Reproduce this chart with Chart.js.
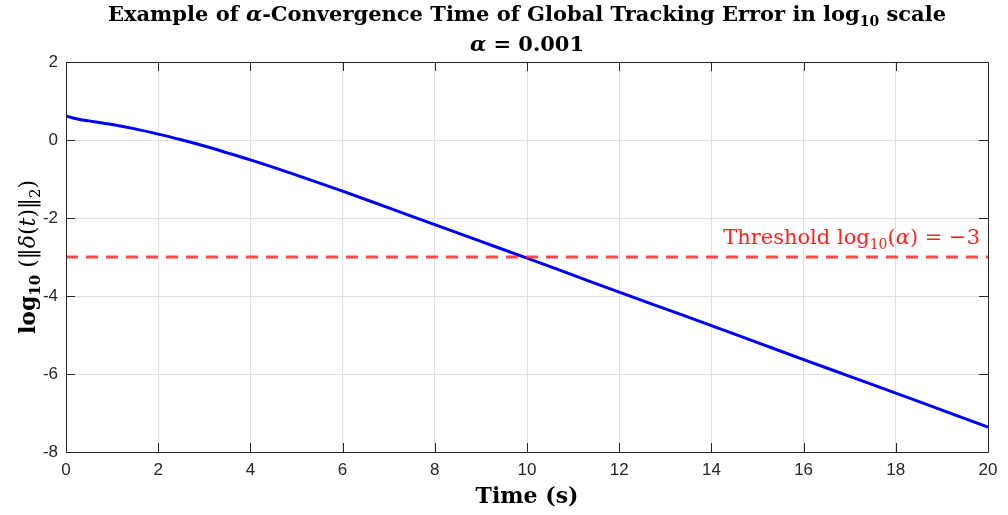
<!DOCTYPE html>
<html>
<head>
<meta charset="utf-8">
<script src="https://cdn.jsdelivr.net/npm/chart.js@4.4.1/dist/chart.umd.min.js"></script>
<style>
  html, body { margin: 0; padding: 0; background: #fff; }
  #wrap { width: 1008px; height: 515px; }
</style>
</head>
<body>
<div id="wrap"><canvas id="c" width="1008" height="515"></canvas></div>
<script>
// --- data ------------------------------------------
const timeS = [0, 0.15, 0.3, 0.5, 1, 1.5, 2, 2.5, 3, 3.5, 4, 5, 6, 7, 8, 9, 10, 11, 12, 13, 14, 15, 16, 17, 18, 19, 20];
const logErr = [0.62, 0.565, 0.525, 0.49, 0.40, 0.285, 0.15, 0.005, -0.155, -0.33, -0.51, -0.90, -1.31, -1.74, -2.17, -2.60, -3.03, -3.465, -3.90, -4.33, -4.76, -5.195, -5.63, -6.06, -6.49, -6.925, -7.36];
const alphaVal = 0.001;
const threshold = Math.log10(alphaVal); // -3
const xRange = [0, 20];
const yRange = [-8, 2];

const SERIF = '"DejaVu Serif", "Liberation Serif", serif';
const SANS = '"Liberation Sans", Arial, sans-serif';
const AXIS_COLOR = '#262626';

// draw a run of text pieces [text, font, baselineShift]
function drawRich(ctx, parts, x, y, align = 'center') {
  let w = 0;
  parts.forEach(p => { ctx.font = p[1]; w += ctx.measureText(p[0]).width; });
  let cx = align === 'center' ? x - w / 2 : (align === 'right' ? x - w : x);
  ctx.textAlign = 'left';
  ctx.textBaseline = 'alphabetic';
  parts.forEach(p => {
    ctx.font = p[1];
    ctx.fillText(p[0], cx, y + (p[2] || 0));
    cx += ctx.measureText(p[0]).width;
  });
  return w;
}

// MATLAB-like box with inward ticks, plus all the labels
const boxPlugin = {
  id: 'box',
  afterDatasetsDraw(chart) {
    const { ctx, chartArea: a, scales } = chart;
    const L = 9;
    ctx.save();
    ctx.strokeStyle = AXIS_COLOR;
    ctx.lineWidth = 1;
    ctx.beginPath();
    ctx.rect(Math.round(a.left) + 0.5, Math.round(a.top) + 0.5, Math.round(a.right - a.left), Math.round(a.bottom - a.top));
    scales.x.ticks.forEach(t => {
      const px = Math.round(scales.x.getPixelForValue(t.value)) + 0.5;
      ctx.moveTo(px, a.bottom); ctx.lineTo(px, a.bottom - L);
      ctx.moveTo(px, a.top); ctx.lineTo(px, a.top + L);
    });
    scales.y.ticks.forEach(t => {
      const py = Math.round(scales.y.getPixelForValue(t.value)) + 0.5;
      ctx.moveTo(a.left, py); ctx.lineTo(a.left + L, py);
      ctx.moveTo(a.right, py); ctx.lineTo(a.right - L, py);
    });
    ctx.stroke();
    ctx.restore();
  },
  afterDraw(chart) {
    const { ctx, chartArea: a, scales } = chart;
    const cx = (a.left + a.right) / 2;
    const cy = (a.top + a.bottom) / 2;
    ctx.save();
    ctx.fillStyle = '#000';

    // title, two lines
    const tb = 'bold 21px ' + SERIF;
    const tbs = 'bold 14px ' + SERIF;
    const ti = 'bold italic 21px ' + SERIF;
    drawRich(ctx, [
      ['Example of ', tb], ['α', ti], ['-Convergence Time of Global Tracking Error in log', tb],
      ['10', tbs, 5], [' scale', tb]
    ], cx, 21);
    drawRich(ctx, [['α', ti], [' = ' + alphaVal, tb]], cx, 51);

    // x label
    drawRich(ctx, [['Time (s)', 'bold 22px ' + SERIF]], cx, 503);

    // y label, rotated
    ctx.save();
    ctx.translate(35, cy);
    ctx.rotate(-Math.PI / 2);
    const yb = 'bold 22px ' + SERIF;
    const ybs = 'bold 15px ' + SERIF;
    const yi = 'italic 22px ' + SERIF;
    const yn = '22px ' + SERIF;
    drawRich(ctx, [
      ['log', yb], ['10', ybs, 5], [' (‖', yn], ['δ', yi], ['(', yn], ['t', yi], [')‖', yn], ['2', '15px ' + SERIF, 5], [')', yn]
    ], 0, 0);
    ctx.restore();

    // threshold annotation
    ctx.fillStyle = '#ff2020';
    const ry = scales.y.getPixelForValue(threshold) - 13;
    const rf = '21px ' + SERIF;
    drawRich(ctx, [
      ['Threshold log', rf], ['10', '14px ' + SERIF, 5], ['(', rf], ['α', 'italic 21px ' + SERIF], [') = −' + Math.abs(threshold), rf]
    ], a.right - 8, ry, 'right');
    ctx.restore();
  }
};

const ctx = document.getElementById('c').getContext('2d');
new Chart(ctx, {
  type: 'scatter',
  data: {
    datasets: [
      {
        label: 'error',
        data: timeS.map((t, i) => ({ x: t, y: logErr[i] })),
        showLine: true,
        borderColor: '#0000ff',
        borderWidth: 3,
        pointRadius: 0,
        cubicInterpolationMode: 'monotone',
        order: 2
      },
      {
        label: 'threshold',
        data: [{ x: xRange[0], y: threshold }, { x: xRange[1], y: threshold }],
        showLine: true,
        borderColor: 'rgba(255,40,40,0.85)',
        borderWidth: 3,
        borderDash: [12, 8],
        pointRadius: 0,
        order: 1
      }
    ]
  },
  options: {
    responsive: false,
    animation: false,
    layout: { padding: { left: 0, right: 20, top: 62, bottom: 0 } },
    plugins: { legend: { display: false }, tooltip: { enabled: false }, title: { display: false } },
    scales: {
      x: {
        type: 'linear',
        min: xRange[0], max: xRange[1],
        ticks: { stepSize: 2, color: AXIS_COLOR, font: { family: SANS, size: 17 }, padding: 8, maxRotation: 0 },
        grid: { color: '#e0e0e0', drawTicks: false, lineWidth: 1 },
        border: { display: false },
        afterFit: (s) => { s.height = 63; }
      },
      y: {
        min: yRange[0], max: yRange[1],
        ticks: { stepSize: 2, color: AXIS_COLOR, font: { family: SANS, size: 17 }, padding: 8 },
        grid: { color: '#e0e0e0', drawTicks: false, lineWidth: 1 },
        border: { display: false },
        afterFit: (s) => { s.width = 66; }
      }
    }
  },
  plugins: [boxPlugin]
});
</script>
</body>
</html>
